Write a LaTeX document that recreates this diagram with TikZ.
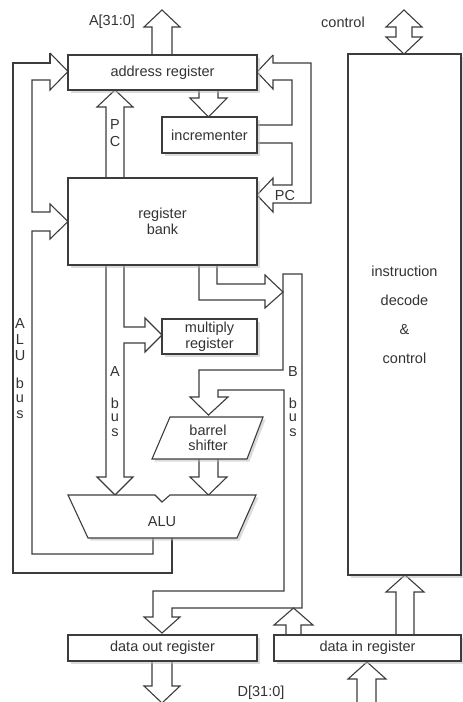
\documentclass[tikz,border=0pt]{standalone}
\usepackage{fontspec}
\setmainfont{Liberation Sans}
\usetikzlibrary{shadows}
\definecolor{ln}{HTML}{3C3C3C}
\definecolor{tx}{HTML}{333333}
\begin{document}
\begin{tikzpicture}[x=1pt,y=-1pt,
  box/.style={draw=ln, line width=1.1pt, fill=white, inner sep=0pt, text=tx, align=center,
    drop shadow={shadow xshift=2.5pt, shadow yshift=-2.5pt, fill=black!28}},
  bus/.style={draw=ln, line width=1.1pt, line join=miter},
  lbl/.style={text=tx, inner sep=0pt},
  font=\fontsize{14.5}{15.5}\selectfont]
\useasboundingbox (0,0) rectangle (463,702);

% ---------- buses (drawn first) ----------
% A[31:0] out of address register
\draw[bus] (152,55)--(152,27)--(144,27)--(162,10)--(180,27)--(172,27)--(172,55);
% control double arrow
\draw[bus] (404,10)--(422,27)--(412,27)--(412,37)--(422,37)--(404,54)--(386,37)--(396,37)--(396,27)--(386,27)--cycle;
% address register -> incrementer
\draw[bus] (199,90)--(199,98)--(190,98)--(208.5,117)--(227,98)--(218,98)--(218,90);
% PC: register bank -> address register
\draw[bus] (106,178)--(106,107)--(97,107)--(115,90)--(133,107)--(124,107)--(124,178);
% ALU bus (left)
\draw[bus] (50,53)--(68,71.5)--(50,90)--(50,80)--(32,80)--(32,212)--(50,212)--(50,204)
  --(68,221.5)--(50,239)--(50,231)--(32,231)--(32,554)--(153,554)--(153,538);
\draw[bus] (50,53)--(50,63)--(13,63)--(13,573)--(172,573)--(172,538);
% right loop (incrementer)
\draw[bus] (273,55)--(257,72)--(273,89)--(273,80)--(292,80)--(292,125)--(257,125);
\draw[bus] (273,55)--(273,63)--(311,63)--(311,203)--(273,203)--(273,212)--(257,195)
  --(273,178)--(273,185)--(292,185)--(292,143)--(257,143);
% A bus
\draw[bus] (106,265)--(106,477)--(97,477)--(115,495)--(133,477)--(124,477)--(124,343)
  --(145,343)--(145,352)--(162,335)--(145,318)--(145,327)--(124,327)--(124,265);
% register bank -> B bus
\draw[bus] (199,265)--(199,300)--(265,300)--(265,308)--(283,292)--(265,275)--(265,284)--(217,284)--(217,265);
% B bus
\draw[bus] (283,292)--(283,274)--(302,274)--(302,608)--(172,608)--(172,617)--(180,617)
  --(162,633)--(144,617)--(153,617)--(153,591)--(284,591)--(284,390)--(218,390)--(218,397)
  --(228,397)--(208.5,415)--(190,397)--(199,397)--(199,370)--(283,370)--(283,292);
% barrel shifter -> ALU
\draw[bus] (199,459)--(199,477)--(190,477)--(208.5,495)--(227,477)--(218,477)--(218,459);
% data in register -> B bus
\draw[bus] (286,635)--(286,625)--(274,625)--(293.5,608)--(313,625)--(301,625)--(301,635);
% data out register -> D[31:0]
\draw[bus] (152,661)--(152,686)--(144,686)--(162,703)--(180,686)--(172,686)--(172,661);
% D[31:0] -> data in register
\draw[bus] (357,703)--(357,679)--(348,679)--(367,662)--(386,679)--(376,679)--(376,703);
% data in register -> instruction decode
\draw[bus] (396,635)--(396,592)--(386,592)--(405,575)--(424,592)--(414,592)--(414,635);

% ---------- boxes ----------
\node[box, minimum width=189pt, minimum height=35pt] (addr) at (162.5,72.5) {address register};
\node[box, minimum width=95pt, minimum height=36pt] (incr) at (209.5,135) {incrementer};
\node[box, minimum width=189pt, minimum height=87pt] (bank) at (162.5,221.5) {register\\bank};
\node[box, minimum width=95pt, minimum height=35pt] (mult) at (209.5,336.5) {multiply\\register};
\path[box] (170,417)--(263,417)--(247,459)--(152,459)--cycle;
\node[lbl, align=center] (barrel) at (208,438) {barrel\\shifter};
\path[box] (68,495)--(155,495)--(162,502)--(170,495)--(256,495)--(237,538)--(88,538)--cycle;
\node[lbl] (alu) at (162,522) {ALU};
\node[box, minimum width=189pt, minimum height=26pt] (dout) at (162.5,648) {data out register};
\node[box, minimum width=187pt, minimum height=26pt] (din) at (367.5,648) {data in register};
\node[box, minimum width=113pt, minimum height=521pt, font=\fontsize{14.5}{29}\selectfont] (idc) at (404.5,314.5) {instruction\\decode\\\&\\control};

% ---------- labels ----------
\node[lbl] (la) at (112,22) {A[31:0]};
\node[lbl] (lc) at (343,22) {control};
\node[lbl] (ld) at (261,693) {D[31:0]};
\node[lbl] (p1) at (115,125) {P};
\node[lbl] (p2) at (115,142) {C};
\node[lbl] (pc) at (285,196) {PC};
\node[lbl] (abA) at (115,372) {A};
\node[lbl] (bbB) at (293,372) {B};
\foreach \t/\yy in {b/403,u/418,s/433}{
  \node[lbl] at (115,\yy) {\t};
  \node[lbl] at (293,\yy) {\t};
}
\foreach \t/\yy in {A/324,L/340,U/356,b/383,u/399,s/415}{
  \node[lbl] at (20,\yy) {\t};
}
\end{tikzpicture}
\end{document}
